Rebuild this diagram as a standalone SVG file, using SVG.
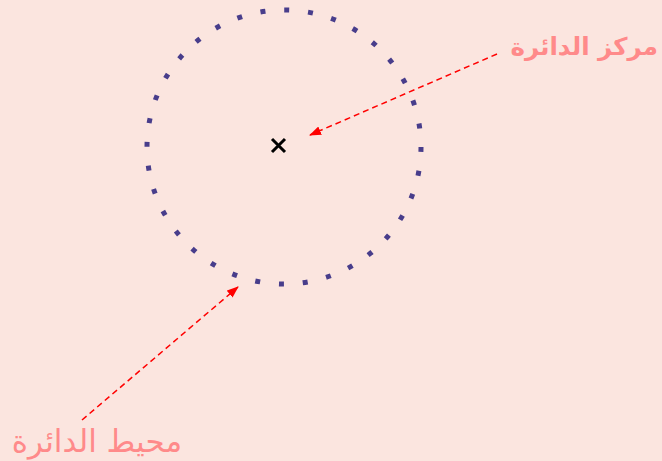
<svg xmlns="http://www.w3.org/2000/svg" width="662" height="461" viewBox="0 0 662 461">
<defs>
<style>
.lbl{fill:#ff8a8a;font-family:"DejaVu Sans",sans-serif}
.arr{stroke:#ff0000;stroke-width:1.5;stroke-dasharray:6 4;fill:none}
</style>
<marker id="ah" markerWidth="12" markerHeight="9" refX="11" refY="4.5" orient="auto" markerUnits="userSpaceOnUse">
<path d="M0,0 L12,4.5 L0,9 Z" fill="#ff0000"/>
</marker>
</defs>
<rect width="662" height="461" fill="#fbe5df"/>
<g id="circle">
<circle cx="284" cy="147" r="137" fill="none" stroke="#483d8b" stroke-width="5" stroke-dasharray="5 18.91"/>
</g>
<g id="center">
<path d="M272,139 L285,152 M285,139 L272,152" stroke="#000" stroke-width="3"/>
</g>
<g id="connectors">
<line class="arr" x1="497" y1="54" x2="310" y2="135" marker-end="url(#ah)"/>
<line class="arr" x1="82" y1="420" x2="238" y2="287" marker-end="url(#ah)"/>
</g>
<g id="label-center">
<text class="lbl" x="658" y="55" font-size="24.5" font-weight="bold" text-anchor="end">مركز الدائرة</text>
</g>
<g id="label-perimeter">
<text class="lbl" x="182" y="452" font-size="31" text-anchor="end">محيط الدائرة</text>
</g>
</svg>
